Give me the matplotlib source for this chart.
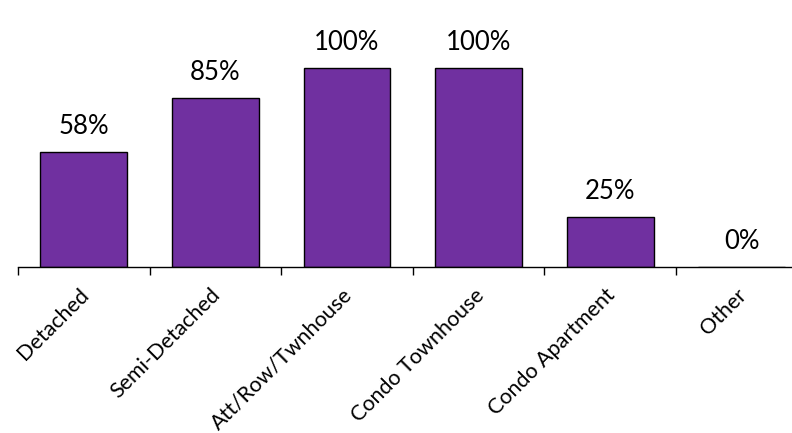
import matplotlib
matplotlib.use('Agg')
import matplotlib.pyplot as plt
import matplotlib.transforms as mtransforms
import numpy as np

categories = ['Detached', 'Semi-Detached', 'Att/Row/Twnhouse', 'Condo Townhouse',
              'Condo Apartment', 'Other']
values = [58, 85, 100, 100, 25, 0]
value_labels = ['58%', '85%', '100%', '100%', '25%', '0%']

plt.rcParams['font.family'] = ['Lato', 'DejaVu Sans']

W, H = 792, 433
fig = plt.figure(figsize=(W / 100, H / 100), dpi=100)
# axes spans past the right edge like the original
left, axis_y, step = 18, 267, 131.6
ax = fig.add_axes([left / W, (H - axis_y) / H, 6 * step / W, axis_y / H])

x = np.arange(len(categories))
ax.bar(x, values, width=0.66, color='#7030A0', edgecolor='black', linewidth=1.0, zorder=2)
ax.set_xlim(-0.5, len(categories) - 0.5)
ax.set_ylim(0, axis_y / 1.99)

for xi, v, lab in zip(x, values, value_labels):
    ax.annotate(lab, (xi, v), xytext=(0, 13), textcoords='offset points',
                ha='center', va='baseline', fontsize=18.5)

for s in ['top', 'right', 'left']:
    ax.spines[s].set_visible(False)
ax.spines['bottom'].set_linewidth(1.0)
ax.set_yticks([])

ax.set_xticks(np.arange(-0.5, len(categories)), minor=False)
ax.set_xticklabels([])
ax.tick_params(axis='x', length=6, width=1.0, direction='out')
ax.set_xticks(x, minor=True)
ax.set_xticklabels(categories, minor=True, rotation=45, ha='right',
                   rotation_mode='anchor', fontsize=15.5)
ax.tick_params(axis='x', which='minor', length=0, pad=13)
shift = mtransforms.ScaledTranslation(-5 / 100, 0, fig.dpi_scale_trans)
for t in ax.get_xticklabels(minor=True):
    t.set_transform(t.get_transform() + shift)

fig.savefig('out.png', dpi=100)
